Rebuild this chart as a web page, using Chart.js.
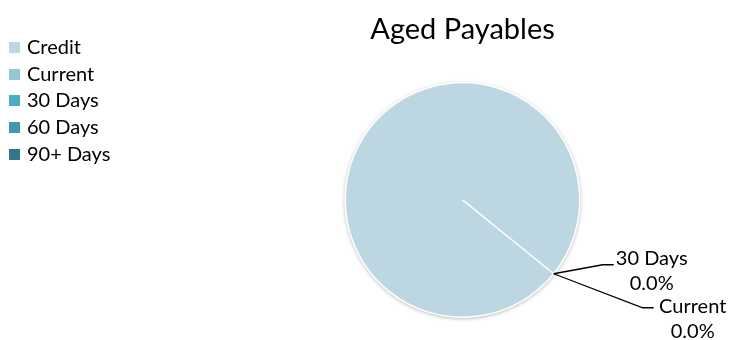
<!DOCTYPE html>
<html>
<head>
<meta charset="utf-8">
<script src="https://cdn.jsdelivr.net/npm/chart.js@4.4.0/dist/chart.umd.min.js"></script>
<style>
  body { margin: 0; background: #fff; }
  #wrap { position: relative; width: 732px; height: 340px; }
  #legend { position: absolute; left: 9px; top: 33px; font-family: Lato, sans-serif; font-size: 20px; color: #000; }
  #legend div { height: 26.7px; line-height: 26px; white-space: nowrap; }
  #legend span { display: inline-block; width: 11px; height: 11px; margin-right: 7px; vertical-align: 1px; }
</style>
</head>
<body>
<div id="wrap">
  <canvas id="myChart" width="732" height="340"></canvas>
  <div id="legend"></div>
</div>
<script>
// data
var labels = ['Credit', 'Current', '30 Days', '60 Days', '90+ Days'];
var values = [100, 0, 0, 0, 0];
var colors = ['#bdd7e2', '#95c6d7', '#4bacc6', '#3f98ae', '#31768b'];
var shownLabels = ['30 Days', 'Current'];

// legend
var legend = document.getElementById('legend');
for (let i = 0; i < labels.length; i++) {
    let row = document.createElement('div');
    row.innerHTML = '<span style="background:' + colors[i] + '"></span>' + labels[i];
    legend.appendChild(row);
}

// soft shadow under the pie
var pieShadow = {
    id: 'pieShadow',
    beforeDatasetsDraw(chart) {
        let arc = chart.getDatasetMeta(0).data[0];
        let ctx = chart.ctx;
        ctx.save();
        ctx.shadowColor = 'rgba(0,0,0,0.35)';
        ctx.shadowBlur = 4;
        ctx.shadowOffsetY = 1;
        ctx.fillStyle = '#ffffff';
        ctx.beginPath();
        ctx.arc(arc.x, arc.y, arc.outerRadius, 0, Math.PI * 2);
        ctx.fill();
        ctx.restore();
    }
};

// data labels with leader lines
var leaderLabels = {
    id: 'leaderLabels',
    afterDatasetsDraw(chart, args, opts) {
        let ctx = chart.ctx;
        let meta = chart.getDatasetMeta(0);
        let total = values.reduce((a, b) => a + b, 0);
        ctx.save();
        ctx.font = '20px Lato';
        ctx.fillStyle = '#000';
        ctx.strokeStyle = '#000';
        ctx.lineWidth = 1.3;
        ctx.textAlign = 'center';
        ctx.textBaseline = 'middle';
        for (let k = 0; k < shownLabels.length; k++) {
            let i = labels.indexOf(shownLabels[k]);
            let arc = meta.data[i];
            let mid = (arc.startAngle + arc.endAngle) / 2;
            let px = arc.x + Math.cos(mid) * arc.outerRadius;
            let py = arc.y + Math.sin(mid) * arc.outerRadius;
            let o = opts.offsets[k];
            ctx.beginPath();
            ctx.moveTo(px, py);
            ctx.lineTo(px + o.elbow[0], py + o.elbow[1]);
            ctx.lineTo(px + o.elbow[0] + 11, py + o.elbow[1]);
            ctx.stroke();
            let pct = (values[i] / total * 100).toFixed(1) + '%';
            ctx.fillText(labels[i], px + o.text[0], py + o.text[1]);
            ctx.fillText(pct, px + o.text[0], py + o.text[1] + 25);
        }
        ctx.restore();
    }
};

var ctx = document.getElementById('myChart');
var myChart = new Chart(ctx, {
    type: 'pie',
    data: {
        labels: labels,
        datasets: [{
            data: values,
            backgroundColor: colors,
            borderColor: '#ffffff',
            borderWidth: 1.5
        }]
    },
    options: {
        responsive: false,
        animation: false,
        rotation: 129,
        layout: { padding: { top: 12, bottom: 22, left: 201, right: 8 } },
        plugins: {
            legend: { display: false },
            tooltip: { enabled: false },
            title: {
                display: true,
                text: 'Aged Payables',
                color: '#000',
                font: { family: 'Lato', size: 29, weight: 'normal' },
                padding: { top: 0, bottom: 35 }
            },
            leaderLabels: {
                offsets: [
                    { elbow: [49, -9], text: [98, -15] },
                    { elbow: [89, 34], text: [139, 33] }
                ]
            }
        }
    },
    plugins: [pieShadow, leaderLabels]
});
</script>
</body>
</html>
